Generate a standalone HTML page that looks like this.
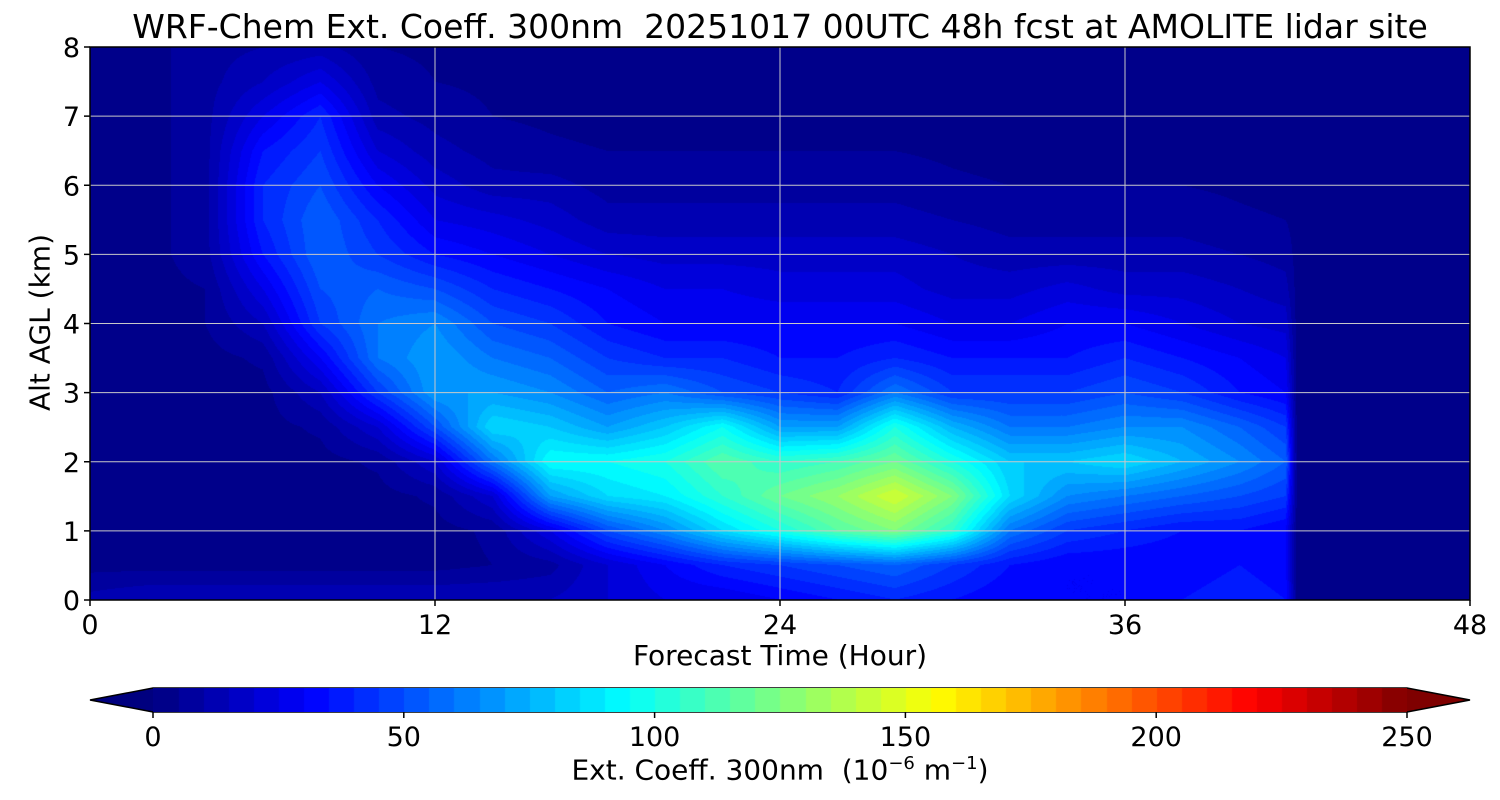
<!DOCTYPE html>
<html><head><meta charset="utf-8">
<style>
body{margin:0;background:#fff;width:1500px;height:800px;overflow:hidden;font-family:"DejaVu Sans","Liberation Sans",sans-serif;}
#wrap{position:relative;width:1500px;height:800px;}
.t{position:absolute;color:#000;white-space:nowrap;}
canvas{position:absolute;}
</style></head>
<body><div id="wrap">
<div class="t" style="left:0;width:1560px;text-align:center;top:7px;font-size:33px;">WRF-Chem Ext. Coeff. 300nm&nbsp; 20251017 00UTC 48h fcst at AMOLITE lidar site</div>
<canvas id="hm" width="1380" height="553" style="left:90px;top:47px"></canvas>
<svg id="ov" width="1500" height="800" style="position:absolute;left:0;top:0"></svg>
<canvas id="cb" width="1254" height="24" style="left:153px;top:688px"></canvas>
<div class="t" style="left:0;width:1560px;text-align:center;top:639px;font-size:28px;">Forecast Time (Hour)</div>
<div class="t" style="left:-65px;top:306px;font-size:28px;transform:rotate(-90deg);width:210px;text-align:center;">Alt AGL (km)</div>
<div class="t" style="left:0;width:1560px;text-align:center;top:753px;font-size:28px;">Ext. Coeff. 300nm&nbsp; (10<sup style="font-size:18px">−6</sup> m<sup style="font-size:18px">−1</sup>)</div>
</div>
<script>
const hours=[0,2,4,6,8,10,12,14,16,18,20,22,24,26,28,30,32,34,36,38,40,41.6,42,44,46,48];
const alts=[0,0.5,1,1.5,2,2.5,3,3.5,4,4.5,5,5.5,6,6.5,7,7.5,8];
const xTicks=[0,12,24,36,48];
const yTicks=[0,1,2,3,4,5,6,7,8];
const cbTicks=[0,50,100,150,200,250];
const values=[
[12,3,3,3,3,3,3,3,3,3,3,3,3,3,3,3,3],
[15,3,3,3,3,3,3,3,3,3,3,3,3,3,3,3,3],
[15,3,3,3,3,3,3,3,5,5,8,8,8,8,8,8,8],
[15,3,3,3,3,3,3,6,15,25,35,40,40,35,25,15,10],
[15,3,3,3,3,6,15,30,45,50,55,55,50,45,40,25,12],
[15,3,3,3,6,20,45,60,60,55,45,40,30,20,12,8,5],
[15,3,3,6,20,50,70,70,65,50,35,25,18,12,8,5,4],
[15,5,6,20,60,85,70,60,50,40,30,22,12,8,5,4,3],
[15,8,25,70,95,80,65,55,45,35,25,18,12,6,4,3,3],
[20,20,50,85,95,70,55,45,35,30,20,12,8,5,3,3,3],
[25,30,65,90,100,80,60,40,30,25,18,12,8,5,3,3,3],
[25,40,85,105,115,95,50,40,30,25,18,12,8,5,3,3,3],
[30,45,100,120,105,70,45,35,30,22,18,12,8,5,3,3,3],
[35,50,115,130,110,70,40,35,30,22,18,12,8,5,3,3,3],
[40,55,125,145,120,100,60,40,30,22,18,12,8,5,3,3,3],
[35,45,105,125,100,75,45,35,25,18,15,10,6,4,3,3,3],
[30,35,60,85,80,60,45,35,25,18,12,8,5,3,3,3,3],
[30,30,45,65,80,60,45,35,30,22,12,8,5,3,3,3,3],
[30,30,40,60,85,65,50,40,30,18,12,8,5,3,3,3,3],
[35,30,35,55,75,65,45,35,25,18,12,8,5,3,3,3,3],
[40,35,35,50,65,55,35,30,20,15,10,6,4,3,3,3,3],
[35,30,30,45,55,45,30,25,18,12,8,5,3,3,3,3,3],
[3,3,3,3,3,3,3,3,3,3,3,3,3,3,3,3,3],
[3,3,3,3,3,3,3,3,3,3,3,3,3,3,3,3,3],
[3,3,3,3,3,3,3,3,3,3,3,3,3,3,3,3,3],
[3,3,3,3,3,3,3,3,3,3,3,3,3,3,3,3,3]];
const X0=90,X1=1470,Y0=600,Y1=47,VMAX=250;
const HMAX=hours[hours.length-1],AMAX=alts[alts.length-1];
const xs=h=>X0+h/HMAX*(X1-X0);
const ys=a=>Y0-a/AMAX*(Y0-Y1);
function jet(t){t=Math.max(0,Math.min(1,t));
 const f=(c)=>Math.max(0,Math.min(1,1.5-Math.abs(4*t-c)));
 return [f(3)*255,f(2)*255,f(1)*255];}
function q(v){return Math.floor(v/5)*5+2.5;}
function seg(arr,v){let i=0;while(i<arr.length-2&&v>arr[i+1])i++;return i;}
(function(){const c=document.getElementById('hm'),ctx=c.getContext('2d');
const W=c.width,H=c.height,img=ctx.createImageData(W,H);
for(let py=0;py<H;py++){const a=AMAX*(1-py/(H-1));
 const j=seg(alts,a);const fy=(a-alts[j])/(alts[j+1]-alts[j]);
 for(let px=0;px<W;px++){const h=HMAX*px/(W-1);
  const i=seg(hours,h);const fx=(h-hours[i])/(hours[i+1]-hours[i]);
  const v=values[i][j]*(1-fx)*(1-fy)+values[i+1][j]*fx*(1-fy)+values[i][j+1]*(1-fx)*fy+values[i+1][j+1]*fx*fy;
  const col=jet(q(v)/VMAX),k=(py*W+px)*4;
  img.data[k]=col[0];img.data[k+1]=col[1];img.data[k+2]=col[2];img.data[k+3]=255;}}
ctx.putImageData(img,0,0);})();
(function(){const c=document.getElementById('cb'),ctx=c.getContext('2d');
for(let px=0;px<c.width;px++){const col=jet(q(px/c.width*VMAX)/VMAX);
 ctx.fillStyle=`rgb(${col[0]|0},${col[1]|0},${col[2]|0})`;ctx.fillRect(px,0,1,24);}})();
const NS='http://www.w3.org/2000/svg',ov=document.getElementById('ov');
function mk(t,at,name){const e=document.createElementNS(NS,t);for(const k in at)e.setAttribute(k,at[k]);
 
 
 ov.appendChild(e);return e;}
const FF='DejaVu Sans, Liberation Sans, sans-serif';
xTicks.forEach(h=>{const x=xs(h);
 mk('line',{x1:x,x2:x,y1:Y1,y2:Y0,stroke:'#c8c8c8','stroke-width':1},'x-gridline');
 mk('line',{x1:x,x2:x,y1:Y0,y2:Y0+6,stroke:'#000','stroke-width':1.5},'x-tick');
 const t=mk('text',{x:x,y:Y0+34,'text-anchor':'middle','font-size':27,'font-family':FF},'x-tick-label');t.textContent=h;});
yTicks.forEach(a=>{const y=ys(a);
 mk('line',{x1:X0,x2:X1,y1:y,y2:y,stroke:'#c8c8c8','stroke-width':1},'y-gridline');
 mk('line',{x1:X0-6,x2:X0,y1:y,y2:y,stroke:'#000','stroke-width':1.5},'y-tick');
 const t=mk('text',{x:X0-10,y:y+10,'text-anchor':'end','font-size':27,'font-family':FF},'y-tick-label');t.textContent=a;});
mk('rect',{x:X0,y:Y1,width:X1-X0,height:Y0-Y1,fill:'none',stroke:'#000','stroke-width':1.5},'plot-frame');
const c0=jet(0),c1=jet(1);
mk('polygon',{points:'90,700 153,688 153,712',fill:`rgb(${c0[0]|0},${c0[1]|0},${c0[2]|0})`},'colorbar-extend-min');
mk('polygon',{points:'1470,700 1407,688 1407,712',fill:`rgb(${c1[0]|0},${c1[1]|0},${c1[2]|0})`},'colorbar-extend-max');
mk('polygon',{points:'90,700 153,688 1407,688 1470,700 1407,712 153,712',fill:'none',stroke:'#000','stroke-width':1.5},'colorbar-outline');
cbTicks.forEach(v=>{const x=153+v/VMAX*1254;
 mk('line',{x1:x,x2:x,y1:712,y2:718,stroke:'#000','stroke-width':1.5},'colorbar-tick');
 const t=mk('text',{x:x,y:746,'text-anchor':'middle','font-size':27,'font-family':FF},'colorbar-tick-label');t.textContent=v;});
</script>
</body></html>
